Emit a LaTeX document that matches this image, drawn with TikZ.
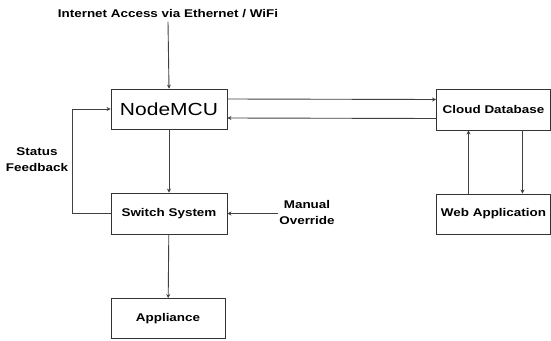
\documentclass[tikz,border=0pt]{standalone}
\usepackage{fontspec}
\setmainfont{Liberation Sans}
\newfontfamily\widefont[FakeStretch=1.2]{Liberation Sans}
\usetikzlibrary{arrows.meta,positioning}
\tikzstyle{block}=[draw=black!80, line width=0.9pt, minimum width=114pt, minimum height=40pt, inner sep=2pt, font=\widefont\bfseries\fontsize{11.2}{15}\selectfont]
\tikzstyle{note}=[align=center, font=\widefont\bfseries\fontsize{11.2}{16}\selectfont]
\tikzstyle{flow}=[black!75, line width=0.9pt, -{Stealth[length=4pt,width=4pt]}]

\begin{document}
\begin{tikzpicture}[x=1pt, y=-1pt]
    \useasboundingbox (0,0) rectangle (551,340);

    \node[block, minimum width=116pt, font=\widefont\fontsize{17.5}{20}\selectfont] (mcu) at (169,109) {NodeMCU};
    \node[block, minimum width=116pt, minimum height=41pt] (switch) at (169,213.5) {Switch System};
    \node[block] (appliance) at (168,318.5) {Appliance};

    \node[block, minimum height=41pt] (cloud) at (493.5,109.5) {Cloud Database};
    \node[block] (webapp) at (493.5,214) {Web Application};

    \node[note] (inet) at (168,14) {Internet Access via Ethernet / WiFi};
    \node[note] (manual) at (307,212) {Manual\\Override};
    \node[note] (status) at (37,160) {Status\\Feedback};

    % Arcs
    \draw[flow] (inet.south) -- (mcu.north);
    \draw[flow] (mcu) -- (switch);
    \draw[flow] (switch) -- (appliance);
    \draw[flow] ([xshift=2pt]manual.west |- switch.east) -- (switch.east);
    \draw[flow] (switch.west) -- ++(-38,0) |- (mcu.west);

    \draw[flow] ([yshift=10pt]mcu.east) -- ([yshift=10pt]cloud.west);
    \draw[flow] ([yshift=-9pt]cloud.west) -- ([yshift=-9pt]mcu.east);

    \draw[flow] ([xshift=29pt]cloud.south) -- ([xshift=29pt]webapp.north);
    \draw[flow] ([xshift=-25pt]webapp.north) -- ([xshift=-25pt]cloud.south);

\end{tikzpicture}
\end{document}
